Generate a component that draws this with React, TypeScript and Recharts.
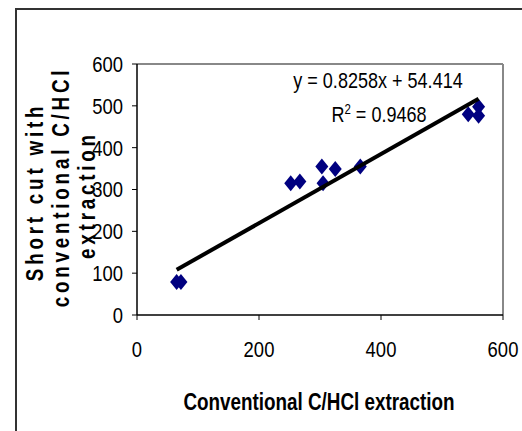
import React from 'react';
import { ScatterChart, Scatter, XAxis, YAxis, ReferenceLine } from 'recharts';

const conventional = [65, 72, 252, 267, 303, 305, 325, 366, 543, 560, 560];
const shortCut = [79, 79, 315, 319, 355, 315, 349, 355, 480, 498, 476];
const xTicks = [0, 200, 400, 600];
const yTicks = [0, 100, 200, 300, 400, 500, 600];
const slope = 0.8258;
const intercept = 54.414;
const trendX = [65, 560];
const equationText = 'y = 0.8258x + 54.414';
const r2Value = '0.9468';
const xTitle = 'Conventional C/HCl extraction';
const yTitleLines = ['Short cut with', 'conventional C/HCl', 'extraction'];

const points = conventional.map((x, i) => ({ x, y: shortCut[i] }));
const trend = trendX.map((x) => ({ x, y: slope * x + intercept }));

const FONT = '"Liberation Sans", Arial, sans-serif';
const NARROW = 0.82;

const Diamond = (props: any) => {
  const { cx, cy } = props;
  if (cx == null || cy == null) return null;
  const w = 6.5;
  const h = 8;
  return (
    <polygon
      points={`${cx},${cy - h} ${cx + w},${cy} ${cx},${cy + h} ${cx - w},${cy}`}
      fill="#000080"
    />
  );
};

const NoShape = () => <g />;

const YTick = (props: any) => {
  const { x, y, payload } = props;
  return (
    <text
      transform={`translate(${x},${y}) scale(${NARROW},1)`}
      textAnchor="end"
      dy="0.355em"
      fontFamily={FONT}
      fontSize={22.5}
      fill="#000"
    >
      {payload.value}
    </text>
  );
};

const XTick = (props: any) => {
  const { x, y, payload } = props;
  return (
    <text
      transform={`translate(${x},${y}) scale(${NARROW},1)`}
      textAnchor="middle"
      dy="0.71em"
      fontFamily={FONT}
      fontSize={22.5}
      fill="#000"
    >
      {payload.value}
    </text>
  );
};

export default function App() {
  const yLineX = [43, 69, 95];
  const yLineY = [192, 187, 195];
  return (
    <div style={{ position: 'absolute', left: 0, top: 0, width: 522, height: 431, overflow: 'hidden', background: '#fff' }}>
      <div
        style={{
          position: 'absolute',
          left: 15,
          top: 8,
          width: 600,
          height: 600,
          borderTop: '2px solid #333',
          borderLeft: '2px solid #333',
        }}
      />
      <div style={{ position: 'absolute', left: 0, top: 0 }}>
        <ScatterChart width={522} height={431} margin={{ top: 64, right: 19, bottom: 86, left: 0 }}>
          <XAxis
            type="number"
            dataKey="x"
            domain={[0, 600]}
            ticks={xTicks}
            interval={0}
            height={30}
            tickSize={5}
            tickMargin={21}
            tick={<XTick />}
            axisLine={{ stroke: '#000', strokeWidth: 1.5 }}
            tickLine={{ stroke: '#000', strokeWidth: 1 }}
          />
          <YAxis
            type="number"
            dataKey="y"
            domain={[0, 600]}
            ticks={yTicks}
            interval={0}
            width={137}
            tickSize={5}
            tickMargin={9}
            tick={<YTick />}
            axisLine={{ stroke: '#000', strokeWidth: 1.5 }}
            tickLine={{ stroke: '#000', strokeWidth: 1 }}
          />
          <ReferenceLine y={600} stroke="#888" strokeWidth={2} />
          <ReferenceLine x={600} stroke="#888" strokeWidth={2} />
          <Scatter data={points} shape={<Diamond />} isAnimationActive={false} />
          <Scatter
            data={trend}
            shape={NoShape}
            line={{ stroke: '#000', strokeWidth: 4 }}
            isAnimationActive={false}
          />
        </ScatterChart>
      </div>
      <svg width={522} height={431} style={{ position: 'absolute', left: 0, top: 0, pointerEvents: 'none' }}>
        <text
          transform={`translate(378,88) scale(${NARROW},1)`}
          textAnchor="middle"
          fontFamily={FONT}
          fontSize={22}
          fill="#000"
        >
          {equationText}
        </text>
        <text
          transform={`translate(379,122) scale(${NARROW},1)`}
          textAnchor="middle"
          fontFamily={FONT}
          fontSize={22}
          fill="#000"
        >
          R<tspan dy={-8} fontSize={14}>2</tspan>
          <tspan dy={8}> = {r2Value}</tspan>
        </text>
        <text
          transform={`translate(319,410) scale(${NARROW},1)`}
          textAnchor="middle"
          fontFamily={FONT}
          fontSize={23}
          fontWeight="bold"
          fill="#000"
        >
          {xTitle}
        </text>
        {yTitleLines.map((line, i) => (
          <text
            key={line}
            transform={`translate(${yLineX[i]},${yLineY[i]}) rotate(-90) scale(${NARROW},1)`}
            textAnchor="middle"
            fontFamily={FONT}
            fontSize={23}
            fontWeight="bold"
            letterSpacing={4.6}
            fill="#000"
          >
            {line}
          </text>
        ))}
      </svg>
    </div>
  );
}
